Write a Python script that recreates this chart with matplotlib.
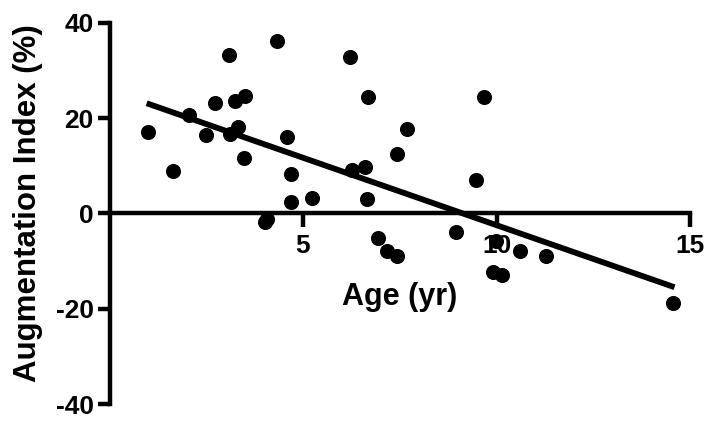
import matplotlib
matplotlib.use("Agg")
import matplotlib.pyplot as plt
import numpy as np

plt.rcParams['font.family'] = ['Liberation Sans', 'DejaVu Sans']
plt.rcParams['font.weight'] = 'bold'

# Data: age (yr) vs augmentation index (%)
age = [1.00, 1.65, 2.06, 2.49, 2.73, 3.09, 3.11, 3.24, 3.33, 3.50, 3.48,
       4.01, 4.07, 4.32, 4.58, 4.68, 4.68, 5.22, 6.21, 6.26, 6.60, 6.68,
       6.66, 6.95, 7.18, 7.42, 7.42, 7.68, 8.95, 9.46, 9.68, 9.92, 10.13,
       9.99, 10.61, 11.28, 14.55]
aix = [17.0, 8.9, 20.7, 16.5, 23.1, 33.2, 16.6, 23.6, 18.2, 24.7, 11.6,
       -1.8, -1.1, 36.1, 16.1, 8.2, 2.3, 3.2, 32.7, 9.2, 9.8, 24.5,
       3.0, -5.2, -8.0, -8.9, 12.5, 17.8, -4.0, 7.0, 24.5, -12.3, -13.0,
       -5.9, -8.0, -8.9, -18.9]

# Regression line endpoints
fit_x = [0.96, 14.6]
fit_y = [23.1, -15.5]

x_ticks = [5, 10, 15]
y_ticks = [-40, -20, 0, 20, 40]

fig = plt.figure(figsize=(7.05, 4.25), dpi=100)
ax = fig.add_axes([109.5 / 705, 1 - 404 / 425, (690 - 109.5) / 705, (404 - 22.7) / 425])

ax.scatter(age, aix, s=118, color='black', zorder=3, linewidths=0)
ax.plot(fit_x, fit_y, color='black', lw=4.2, solid_capstyle='butt', zorder=3)

ax.set_xlim(0, 15)
ax.set_ylim(-40, 40)
ax.set_xticks(x_ticks)
ax.set_yticks(y_ticks)
ax.set_xticklabels([str(t) for t in x_ticks])
ax.set_yticklabels([str(t) for t in y_ticks])

for s in ['top', 'right']:
    ax.spines[s].set_visible(False)
ax.spines['bottom'].set_position(('data', 0))
for s in ['left', 'bottom']:
    ax.spines[s].set_linewidth(3.2)
    ax.spines[s].set_capstyle('projecting')
    ax.spines[s].set_zorder(2)

ax.tick_params(axis='y', direction='out', length=8.5, width=3.2, pad=3,
               labelsize=19)
ax.tick_params(axis='x', direction='out', length=10, width=3.2, pad=5,
               labelsize=19)
for lab in ax.get_xticklabels() + ax.get_yticklabels():
    lab.set_fontweight('bold')

ax.set_xlabel('Age (yr)', fontsize=22, fontweight='bold')
ax.set_ylabel('Augmentation Index (%)', fontsize=22.5, fontweight='bold')
ax.xaxis.set_label_coords(0.5, 0.32)
ax.xaxis.label.set_va('top')
ax.yaxis.set_label_coords(-0.141, 0.527)
ax.yaxis.label.set_va('center')

fig.savefig('out.png', dpi=100)
